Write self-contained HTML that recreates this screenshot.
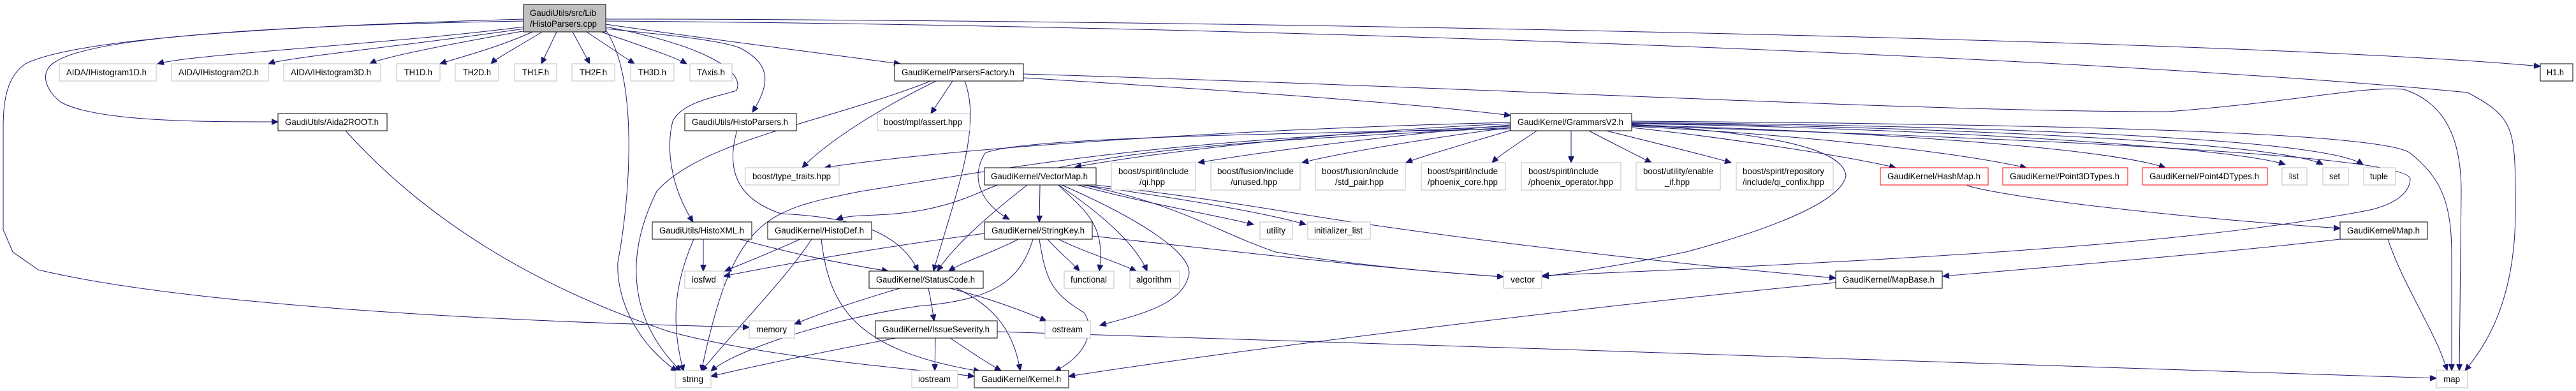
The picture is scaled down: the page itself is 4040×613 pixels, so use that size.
<!DOCTYPE html>
<html><head><meta charset="utf-8"><style>
html,body{margin:0;padding:0;background:#fff;}
svg{display:block;}
text{font-family:"Liberation Sans",Arial,sans-serif;font-size:13.5px;fill:#000;}
.e{fill:none;stroke:#191970;stroke-width:1;}
.g{fill:#fff;stroke:#bfbfbf;stroke-width:1;}
.b{fill:#fff;stroke:#000;stroke-width:1;}
.r{fill:#fff;stroke:#ff0000;stroke-width:1;}
</style></head><body>
<svg width="4040" height="613" viewBox="0 0 4040 613" xmlns="http://www.w3.org/2000/svg">
<defs><marker id="a" markerUnits="userSpaceOnUse" markerWidth="11" markerHeight="9" refX="10" refY="4.5" orient="auto"><path d="M0,0 L10,4.5 L0,9 z" fill="#191970" stroke="#191970"/></marker></defs>
<g marker-end="url(#a)">
<!-- root -->
<path class="e" d="M822,42 C600,70 300,85 247,100"/>
<path class="e" d="M822,45 C650,70 450,90 421,100"/>
<path class="e" d="M825,48 C700,70 600,90 580,100"/>
<path class="e" d="M835,50 C780,75 720,90 690,100"/>
<path class="e" d="M850,50 C810,75 780,90 770,100"/>
<path class="e" d="M873,50 L849,100"/>
<path class="e" d="M898,50 L925,100"/>
<path class="e" d="M920,50 L995,100"/>
<path class="e" d="M943,50 C1000,70 1060,90 1077,100"/>
<path class="e" d="M950,38 C1100,60 1300,85 1412,100"/>
<path class="e" d="M950,30 C1800,30 3500,60 3984,104"/>
<path class="e" d="M950,33 C2000,40 3300,90 3870,145 C3945,185 3945,200 3945,330 C3945,470 3900,540 3866,581"/>
<path class="e" d="M822,33 C400,40 150,60 90,95 C60,110 70,140 95,160 C150,190 300,191 436,191"/>
<path class="e" d="M822,30 C300,45 100,70 40,100 C10,120 5,160 5,200 L5,360 L20,395 L60,423 C300,480 800,505 1175,513"/>
<path class="e" d="M950,45 C1050,55 1129,63 1160,75 C1209,100 1209,130 1180,176"/>
<path class="e" d="M950,42 C1100,70 1170,110 1155,142 C1120,153 1070,160 1055,190 C1045,230 1050,290 1087,348"/>
<path class="e" d="M950,47 C1000,120 990,300 969,411 C966,470 1000,540 1062,582"/>
<!-- Aida2ROOT -->
<path class="e" d="M541,204 C700,380 900,470 1050,520 C1200,560 1400,575 1528,590"/>
<!-- ParsersFactory -->
<path class="e" d="M1494,127 L1460,178"/>
<path class="e" d="M1468,127 C1380,170 1300,220 1258,263"/>
<path class="e" d="M1513,127 C1540,200 1500,300 1464,425"/>
<path class="e" d="M1460,127 C1300,190 1100,220 1030,300 C980,400 985,500 1068,582"/>
<path class="e" d="M1605,122 C1900,140 2200,160 2369,181"/>
<path class="e" d="M1605,116 C2400,140 3000,175 3400,175 C3600,160 3700,135 3770,140 C3830,160 3860,210 3860,300 L3857,581"/>
<!-- GrammarsV2 -->
<path class="e" d="M2369,192 C2000,200 1500,230 1293,263"/>
<path class="e" d="M2369,194 C2100,205 1800,240 1686,262"/>
<path class="e" d="M2369,196 C2200,210 2000,235 1879,255"/>
<path class="e" d="M2369,200 C2250,215 2100,240 2042,255"/>
<path class="e" d="M2370,204 C2300,225 2230,245 2205,255"/>
<path class="e" d="M2412,204 C2380,225 2350,245 2340,255"/>
<path class="e" d="M2464,204 L2464,255"/>
<path class="e" d="M2490,204 C2530,225 2570,245 2590,255"/>
<path class="e" d="M2515,204 C2600,225 2680,245 2715,255"/>
<path class="e" d="M2559,200 C2700,215 2900,245 2973,263"/>
<path class="e" d="M2559,198 C2800,210 3050,235 3178,263"/>
<path class="e" d="M2559,196 C2900,205 3300,230 3396,263"/>
<path class="e" d="M2559,194 C3000,200 3500,230 3584,258"/>
<path class="e" d="M2559,193 C3100,200 3580,225 3643,258"/>
<path class="e" d="M2559,192 C3200,198 3650,220 3706,258"/>
<path class="e" d="M2559,190 C3300,195 3740,210 3780,240 C3830,280 3845,320 3845,400 L3845,581"/>
<path class="e" d="M2560,195 C2800,210 2890,237 2895,275 C2890,310 2805,352 2644,395 C2550,415 2480,425 2419,434"/>
<path class="e" d="M2559,197 C3100,215 3770,240 3780,280 C3780,300 3760,320 3713,330 C3500,370 3200,400 2419,432"/>
<path class="e" d="M2369,198 C1800,220 1600,260 1350,300 C1200,330 1150,340 1100,582"/>
<path class="e" d="M2369,200 C2000,220 1700,230 1540,300 C1430,350 1350,330 1312,344"/>
<path class="e" d="M2369,202 C2000,210 1600,215 1545,240 C1520,280 1540,320 1583,344"/>
<!-- VectorMap -->
<path class="e" d="M1631,290 L1630,348"/>
<path class="e" d="M1611,290 C1560,330 1500,380 1470,425"/>
<path class="e" d="M1660,290 C1700,330 1735,350 1724,425"/>
<path class="e" d="M1660,290 C1720,330 1780,380 1799,425"/>
<path class="e" d="M1665,290 C1780,340 1880,400 1863,436 C1850,480 1780,495 1725,510"/>
<path class="e" d="M1690,290 C1800,320 1920,340 1966,352"/>
<path class="e" d="M1690,289 C1850,310 1990,335 2048,352"/>
<path class="e" d="M1690,288 C1850,320 1900,360 2000,395 C2150,420 2300,430 2358,434"/>
<path class="e" d="M1690,287 C1900,310 2000,330 2100,345 C2400,390 2700,420 2879,436"/>
<!-- StringKey -->
<path class="e" d="M1544,366 C1400,385 1250,410 1135,433"/>
<path class="e" d="M1597,375 C1560,395 1510,410 1488,425"/>
<path class="e" d="M1643,375 C1660,395 1680,410 1693,425"/>
<path class="e" d="M1660,375 C1700,395 1750,410 1782,425"/>
<path class="e" d="M1620,375 C1600,440 1560,470 1440,480 C1300,500 1150,550 1115,582"/>
<path class="e" d="M1630,375 C1640,440 1650,460 1700,490 C1720,520 1700,560 1654,582"/>
<path class="e" d="M1713,370 C1900,390 2150,420 2358,434"/>
<!-- HistoXML -->
<path class="e" d="M1103,375 L1103,425"/>
<path class="e" d="M1088,375 C1060,440 1050,500 1072,582"/>
<path class="e" d="M1160,375 C1250,400 1330,415 1393,425"/>
<!-- HistoDef -->
<path class="e" d="M1255,375 C1200,400 1160,415 1137,425"/>
<path class="e" d="M1273,375 C1230,440 1150,520 1100,582"/>
<path class="e" d="M1288,375 C1300,480 1340,550 1537,582"/>
<!-- HistoParsers -->
<path class="e" d="M1156,204 C1140,260 1150,310 1225,335 C1330,340 1410,360 1440,425"/>
<!-- StatusCode -->
<path class="e" d="M1411,452 C1350,470 1290,490 1246,508"/>
<path class="e" d="M1456,452 C1460,470 1463,490 1465,503"/>
<path class="e" d="M1490,452 C1560,470 1610,490 1641,503"/>
<path class="e" d="M1500,452 C1560,480 1590,520 1600,581"/>
<!-- IssueSeverity -->
<path class="e" d="M1405,530 C1300,550 1200,570 1115,590"/>
<path class="e" d="M1467,530 L1466,581"/>
<path class="e" d="M1490,530 C1520,550 1550,570 1570,581"/>
<path class="e" d="M1564,520 C2300,540 3300,580 3821,593"/>
<!-- HashMap, Map, MapBase -->
<path class="e" d="M3085,291 C3150,310 3400,340 3670,358"/>
<path class="e" d="M3670,375 C3500,395 3200,420 3047,433"/>
<path class="e" d="M3745,375 C3770,450 3820,520 3838,581"/>
<path class="e" d="M2879,443 C2400,490 1900,555 1676,590"/>
</g>
<!-- nodes -->
<rect x="821" y="7" width="129" height="43" fill="#bfbfbf" stroke="#000"/>
<text x="831" y="25" textLength="104" lengthAdjust="spacingAndGlyphs">GaudiUtils/src/Lib</text>
<text x="831" y="42" textLength="105" lengthAdjust="spacingAndGlyphs">/HistoParsers.cpp</text>
<g>
<rect class="g" x="93" y="100" width="152" height="27"/><text x="104" y="118" textLength="126" lengthAdjust="spacingAndGlyphs">AIDA/IHistogram1D.h</text>
<rect class="g" x="269" y="100" width="152" height="27"/><text x="280" y="118" textLength="126" lengthAdjust="spacingAndGlyphs">AIDA/IHistogram2D.h</text>
<rect class="g" x="445" y="100" width="152" height="27"/><text x="456" y="118" textLength="126" lengthAdjust="spacingAndGlyphs">AIDA/IHistogram3D.h</text>
<rect class="g" x="622" y="100" width="68" height="27"/><text x="634" y="118" textLength="44" lengthAdjust="spacingAndGlyphs">TH1D.h</text>
<rect class="g" x="714" y="100" width="68" height="27"/><text x="726" y="118" textLength="44" lengthAdjust="spacingAndGlyphs">TH2D.h</text>
<rect class="g" x="807" y="100" width="66" height="27"/><text x="819" y="118" textLength="42" lengthAdjust="spacingAndGlyphs">TH1F.h</text>
<rect class="g" x="897" y="100" width="67" height="27"/><text x="909" y="118" textLength="43" lengthAdjust="spacingAndGlyphs">TH2F.h</text>
<rect class="g" x="989" y="100" width="68" height="27"/><text x="1001" y="118" textLength="44" lengthAdjust="spacingAndGlyphs">TH3D.h</text>
<rect class="g" x="1082" y="100" width="66" height="27"/><text x="1093" y="118" textLength="44" lengthAdjust="spacingAndGlyphs">TAxis.h</text>
<rect class="b" x="1403" y="100" width="202" height="27"/><text x="1414" y="118" textLength="177" lengthAdjust="spacingAndGlyphs">GaudiKernel/ParsersFactory.h</text>
<rect class="b" x="3984" y="100" width="51" height="27"/><text x="3994" y="118" textLength="27" lengthAdjust="spacingAndGlyphs">H1.h</text>

<rect class="b" x="436" y="178" width="171" height="27"/><text x="447" y="196" textLength="147" lengthAdjust="spacingAndGlyphs">GaudiUtils/Aida2ROOT.h</text>
<rect class="b" x="1074" y="178" width="175" height="27"/><text x="1085" y="196" textLength="151" lengthAdjust="spacingAndGlyphs">GaudiUtils/HistoParsers.h</text>
<rect class="g" x="1376" y="178" width="145" height="27"/><text x="1386" y="196" textLength="123" lengthAdjust="spacingAndGlyphs">boost/mpl/assert.hpp</text>
<rect class="b" x="2369" y="178" width="190" height="27"/><text x="2380" y="196" textLength="166" lengthAdjust="spacingAndGlyphs">GaudiKernel/GrammarsV2.h</text>

<rect class="g" x="1169" y="263" width="147" height="27"/><text x="1180" y="281" textLength="123" lengthAdjust="spacingAndGlyphs">boost/type_traits.hpp</text>
<rect class="b" x="1544" y="263" width="175" height="27"/><text x="1554" y="281" textLength="152" lengthAdjust="spacingAndGlyphs">GaudiKernel/VectorMap.h</text>
<rect class="g" x="1743" y="255" width="132" height="43"/><text x="1754" y="273" textLength="110" lengthAdjust="spacingAndGlyphs">boost/spirit/include</text><text x="1787" y="290" textLength="40" lengthAdjust="spacingAndGlyphs">/qi.hpp</text>
<rect class="g" x="1899" y="255" width="140" height="43"/><text x="1909" y="273" textLength="120" lengthAdjust="spacingAndGlyphs">boost/fusion/include</text><text x="1930" y="290" textLength="73" lengthAdjust="spacingAndGlyphs">/unused.hpp</text>
<rect class="g" x="2063" y="255" width="141" height="43"/><text x="2073" y="273" textLength="120" lengthAdjust="spacingAndGlyphs">boost/fusion/include</text><text x="2094" y="290" textLength="76" lengthAdjust="spacingAndGlyphs">/std_pair.hpp</text>
<rect class="g" x="2229" y="255" width="132" height="43"/><text x="2239" y="273" textLength="110" lengthAdjust="spacingAndGlyphs">boost/spirit/include</text><text x="2239" y="290" textLength="110" lengthAdjust="spacingAndGlyphs">/phoenix_core.hpp</text>
<rect class="g" x="2386" y="255" width="156" height="43"/><text x="2397" y="273" textLength="110" lengthAdjust="spacingAndGlyphs">boost/spirit/include</text><text x="2397" y="290" textLength="133" lengthAdjust="spacingAndGlyphs">/phoenix_operator.hpp</text>
<rect class="g" x="2566" y="255" width="132" height="43"/><text x="2577" y="273" textLength="110" lengthAdjust="spacingAndGlyphs">boost/utility/enable</text><text x="2611" y="290" textLength="39" lengthAdjust="spacingAndGlyphs">_if.hpp</text>
<rect class="g" x="2723" y="255" width="152" height="43"/><text x="2733" y="273" textLength="128" lengthAdjust="spacingAndGlyphs">boost/spirit/repository</text><text x="2733" y="290" textLength="128" lengthAdjust="spacingAndGlyphs">/include/qi_confix.hpp</text>
<rect class="r" x="2949" y="263" width="169" height="27"/><text x="2960" y="281" textLength="146" lengthAdjust="spacingAndGlyphs">GaudiKernel/HashMap.h</text>
<rect class="r" x="3141" y="263" width="196" height="27"/><text x="3152" y="281" textLength="172" lengthAdjust="spacingAndGlyphs">GaudiKernel/Point3DTypes.h</text>
<rect class="r" x="3360" y="263" width="196" height="27"/><text x="3371" y="281" textLength="172" lengthAdjust="spacingAndGlyphs">GaudiKernel/Point4DTypes.h</text>
<rect class="g" x="3579" y="263" width="39" height="27"/><text x="3590" y="281" textLength="15" lengthAdjust="spacingAndGlyphs">list</text>
<rect class="g" x="3643" y="263" width="40" height="27"/><text x="3653" y="281" textLength="17" lengthAdjust="spacingAndGlyphs">set</text>
<rect class="g" x="3707" y="263" width="50" height="27"/><text x="3717" y="281" textLength="28" lengthAdjust="spacingAndGlyphs">tuple</text>

<rect class="b" x="1023" y="348" width="156" height="27"/><text x="1034" y="366" textLength="133" lengthAdjust="spacingAndGlyphs">GaudiUtils/HistoXML.h</text>
<rect class="b" x="1204" y="348" width="163" height="27"/><text x="1215" y="366" textLength="140" lengthAdjust="spacingAndGlyphs">GaudiKernel/HistoDef.h</text>
<rect class="b" x="1544" y="348" width="169" height="27"/><text x="1555" y="366" textLength="146" lengthAdjust="spacingAndGlyphs">GaudiKernel/StringKey.h</text>
<rect class="g" x="1976" y="348" width="51" height="27"/><text x="1986" y="366" textLength="30" lengthAdjust="spacingAndGlyphs">utility</text>
<rect class="g" x="2051" y="348" width="98" height="27"/><text x="2061" y="366" textLength="76" lengthAdjust="spacingAndGlyphs">initializer_list</text>
<rect class="b" x="3670" y="348" width="137" height="27"/><text x="3681" y="366" textLength="114" lengthAdjust="spacingAndGlyphs">GaudiKernel/Map.h</text>

<rect class="g" x="1074" y="425" width="61" height="27"/><text x="1085" y="443" textLength="38" lengthAdjust="spacingAndGlyphs">iosfwd</text>
<rect class="b" x="1363" y="425" width="179" height="27"/><text x="1374" y="443" textLength="155" lengthAdjust="spacingAndGlyphs">GaudiKernel/StatusCode.h</text>
<rect class="g" x="1669" y="425" width="78" height="27"/><text x="1679" y="443" textLength="57" lengthAdjust="spacingAndGlyphs">functional</text>
<rect class="g" x="1772" y="425" width="78" height="27"/><text x="1782" y="443" textLength="55" lengthAdjust="spacingAndGlyphs">algorithm</text>
<rect class="g" x="2358" y="425" width="60" height="27"/><text x="2369" y="443" textLength="38" lengthAdjust="spacingAndGlyphs">vector</text>
<rect class="b" x="2879" y="425" width="167" height="27"/><text x="2890" y="443" textLength="144" lengthAdjust="spacingAndGlyphs">GaudiKernel/MapBase.h</text>

<rect class="g" x="1175" y="503" width="71" height="27"/><text x="1186" y="521" textLength="48" lengthAdjust="spacingAndGlyphs">memory</text>
<rect class="b" x="1373" y="503" width="191" height="27"/><text x="1384" y="521" textLength="168" lengthAdjust="spacingAndGlyphs">GaudiKernel/IssueSeverity.h</text>
<rect class="g" x="1639" y="503" width="71" height="27"/><text x="1650" y="521" textLength="48" lengthAdjust="spacingAndGlyphs">ostream</text>

<rect class="g" x="1059" y="581" width="56" height="27"/><text x="1070" y="599" textLength="33" lengthAdjust="spacingAndGlyphs">string</text>
<rect class="g" x="1430" y="581" width="72" height="27"/><text x="1440" y="599" textLength="51" lengthAdjust="spacingAndGlyphs">iostream</text>
<rect class="b" x="1528" y="581" width="148" height="27"/><text x="1539" y="599" textLength="125" lengthAdjust="spacingAndGlyphs">GaudiKernel/Kernel.h</text>
<rect class="g" x="3821" y="581" width="49" height="27"/><text x="3832" y="599" textLength="26" lengthAdjust="spacingAndGlyphs">map</text>
</g>
</svg>
</body></html>
